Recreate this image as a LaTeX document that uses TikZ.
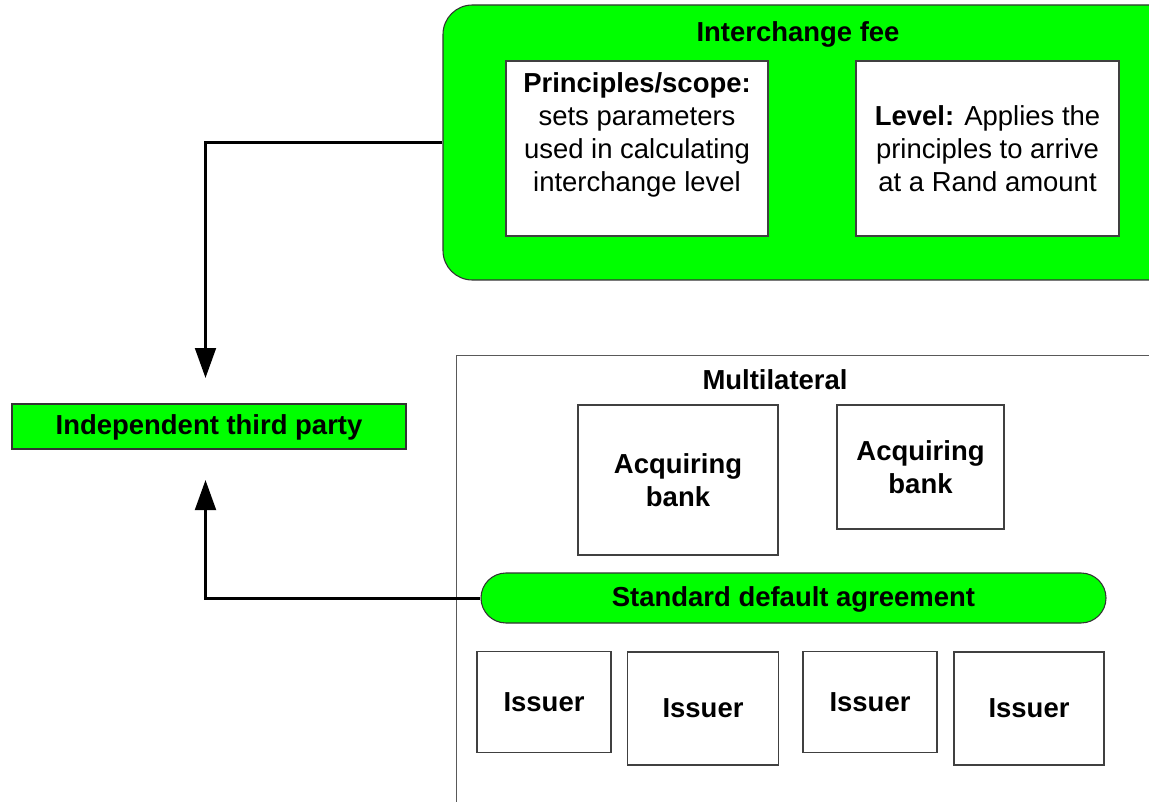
\documentclass[tikz,border=0pt]{standalone}
\usepackage{fontspec}
\setmainfont{Liberation Sans}
\usetikzlibrary{arrows.meta}
\definecolor{brightgreen}{RGB}{0,255,0}
\tikzset{
  lbl/.style={font=\fontsize{20.6}{24.75}\selectfont\bfseries, align=center, inner sep=0pt},
  txt/.style={font=\fontsize{20.6}{24.75}\selectfont, align=center, inner sep=0pt},
  wbox/.style={draw=black!75, line width=0.8pt, fill=white, inner sep=0pt},
  gbox/.style={draw=black!80, line width=0.8pt, fill=brightgreen, inner sep=0pt},
  frame/.style={draw=black!65, line width=0.75pt, inner sep=0pt},
  conn/.style={line width=2.25pt, -{Triangle[length=22.5pt,width=15.5pt]}}
}
\begin{document}
\begin{tikzpicture}[x=0.75pt,y=-0.75pt]
\clip (0,0) rectangle (1149,802);
\fill[white] (0,0) rectangle (1149,802);

% Interchange fee group
\node[gbox, rounded corners=22pt, minimum width=757*0.75pt, minimum height=275*0.75pt] (ic) at (821.5,142.5) {};
\node[lbl] (ict) at (798,34.5) {Interchange fee};
\node[wbox, minimum width=262*0.75pt, minimum height=175*0.75pt] (pr) at (637,148.5) {};
\node[txt] (prt) at (637,134.5) {{\bfseries Principles/scope:}\\sets parameters\\used in calculating\\interchange level};
\node[wbox, minimum width=263*0.75pt, minimum height=175*0.75pt] (lv) at (987.5,148.5) {};
\node[txt] (lvt) at (987.5,149) {{\bfseries Level:} Applies the\\principles to arrive\\at a Rand amount};

% Independent third party
\node[gbox, minimum width=394*0.75pt, minimum height=45*0.75pt] (itp) at (209,426.5) {};
\node[lbl] (itpt) at (209,427.5) {Independent third party};

% Multilateral frame
\node[frame, minimum width=744*0.75pt, minimum height=495*0.75pt] (ml) at (828,602.5) {};
\node[lbl] (mlt) at (775,380) {Multilateral};

\node[wbox, minimum width=200*0.75pt, minimum height=150*0.75pt, text width=190*0.75pt, lbl] (ab1) at (678,480) {Acquiring\\bank};
\node[wbox, minimum width=167*0.75pt, minimum height=124*0.75pt, text width=160*0.75pt, lbl] (ab2) at (920.5,467) {Acquiring\\bank};

\node[gbox, rounded corners=18.75pt, minimum width=625*0.75pt, minimum height=50*0.75pt] (sda) at (793.5,598) {};
\node[lbl] (sdat) at (793.5,599) {Standard default agreement};

\node[wbox, lbl, minimum width=134*0.75pt, minimum height=101*0.75pt] (is1) at (544,702) {Issuer};
\node[wbox, lbl, minimum width=151*0.75pt, minimum height=113*0.75pt] (is2) at (703,708.5) {Issuer};
\node[wbox, lbl, minimum width=134*0.75pt, minimum height=101*0.75pt] (is3) at (870,702) {Issuer};
\node[wbox, lbl, minimum width=150*0.75pt, minimum height=113*0.75pt] (is4) at (1029,708.5) {Issuer};

% connectors
\coordinate (t1) at (205.5,378);
\coordinate (t2) at (205.5,480);
\draw[conn] (ic.west) -| (t1);
\draw[conn] (sda.west) -| (t2);
\end{tikzpicture}
\end{document}
